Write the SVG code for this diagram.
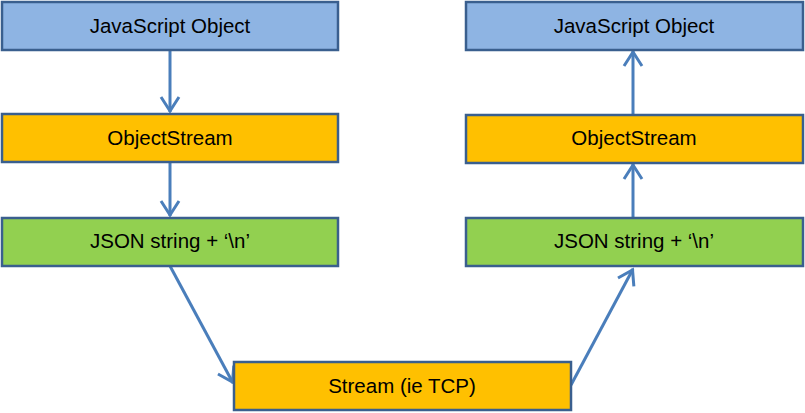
<svg xmlns="http://www.w3.org/2000/svg" width="805" height="413" viewBox="0 0 805 413">
<style>
.box{stroke:#3A5F8E;stroke-width:2.5}
.blue{fill:#8EB4E3}
.orange{fill:#FFC000}
.green{fill:#92D050}
text{font-family:"Liberation Sans",Arial,sans-serif;font-size:20.5px;fill:#000;text-anchor:middle}
.conn{stroke:#4A7EBB;stroke-width:3;fill:none;marker-end:url(#ah)}
</style>
<defs>
<marker id="ah" markerUnits="userSpaceOnUse" viewBox="-20 -12 24 24" markerWidth="24" markerHeight="24" refX="0" refY="0" orient="auto">
<path d="M-15,-9 L-1,0 L-15,9" fill="none" stroke="#4A7EBB" stroke-width="3"/>
</marker>
</defs>
<rect width="805" height="413" fill="#fff"/>
<g id="connectors">
<line class="conn" x1="170" y1="51" x2="170" y2="112"/>
<line class="conn" x1="170" y1="163" x2="170" y2="216"/>
<line class="conn" x1="170" y1="266" x2="233" y2="383"/>
<line class="conn" x1="571" y1="385" x2="633" y2="269"/>
<line class="conn" x1="633" y1="217" x2="633" y2="164"/>
<line class="conn" x1="633" y1="114" x2="633" y2="51"/>
</g>
<g id="js-left"><rect class="box blue" x="2" y="2" width="336" height="48"/><text x="170" y="33">JavaScript Object</text></g>
<g id="os-left"><rect class="box orange" x="2" y="114" width="336" height="48"/><text x="170" y="145">ObjectStream</text></g>
<g id="json-left"><rect class="box green" x="2" y="218" width="336" height="48"/><text x="170" y="248">JSON string + ‘\n’</text></g>
<g id="stream"><rect class="box orange" x="234" y="362" width="337" height="48"/><text x="402" y="393">Stream (ie TCP)</text></g>
<g id="js-right"><rect class="box blue" x="466" y="2" width="337" height="48"/><text x="634" y="33">JavaScript Object</text></g>
<g id="os-right"><rect class="box orange" x="466" y="115" width="337" height="48"/><text x="634" y="145">ObjectStream</text></g>
<g id="json-right"><rect class="box green" x="466" y="218" width="337" height="48"/><text x="634" y="248">JSON string + ‘\n’</text></g>
</svg>
